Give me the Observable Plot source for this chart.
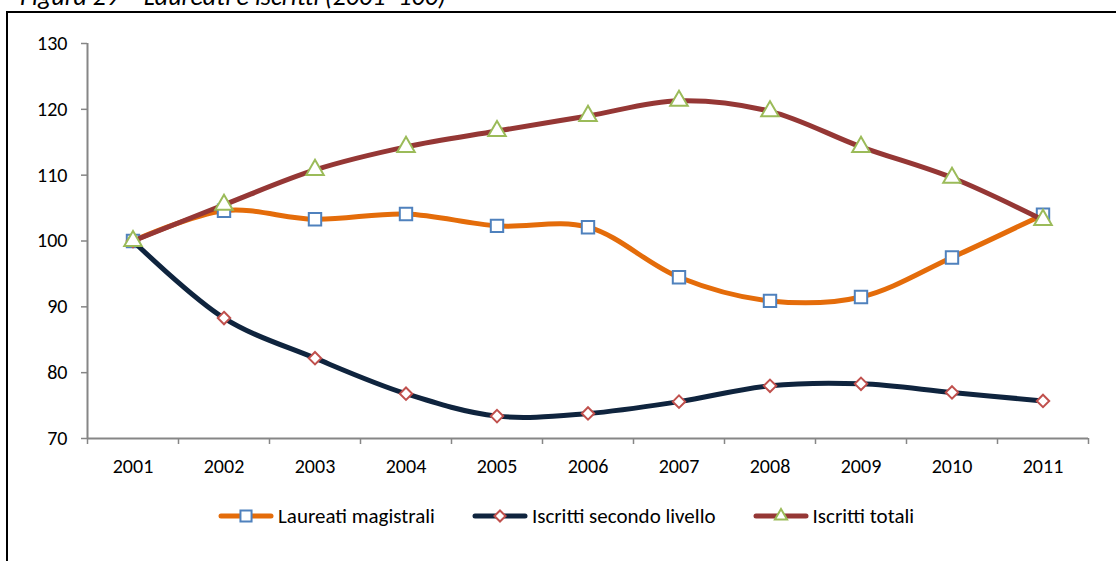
<!DOCTYPE html>
<html>
<head>
<meta charset="utf-8">
<script src="https://cdn.jsdelivr.net/npm/d3@7"></script>
<script src="https://cdn.jsdelivr.net/npm/@observablehq/plot@0.6"></script>
<style>
  html, body { margin: 0; padding: 0; background: #fff; overflow: hidden; }
  body { width: 1116px; height: 561px; position: relative; font-family: Carlito, Calibri, Lato, sans-serif; }
  #frame { position: absolute; left: 6px; top: 11px; width: 1200px; height: 700px; border-top: 2px solid #000; border-left: 2px solid #000; }
  #title { position: absolute; left: 20px; top: -17px; font-size: 26px; line-height: 26px; font-style: italic; color: #000; white-space: nowrap; }
  #chart { position: absolute; left: 0; top: 0; }
  #legend { position: absolute; left: 218px; top: 502px; height: 28px; display: flex; align-items: center; font-size: 21px; color: #000; }
  .item { display: flex; align-items: center; margin-right: 37px; }
  .item svg { margin-right: 4px; }
</style>
</head>
<body>
<div id="frame"></div>
<div id="title">Figura 29 – Laureati e iscritti (2001=100)</div>
<div id="chart"></div>
<div id="legend"></div>
<script>
const years = [2001, 2002, 2003, 2004, 2005, 2006, 2007, 2008, 2009, 2010, 2011];
const laureatiMagistrali = [100, 104.6, 103.3, 104.1, 102.3, 102.1, 94.5, 90.9, 91.5, 97.5, 104.0];
const iscrittiSecondoLivello = [100, 88.3, 82.2, 76.8, 73.4, 73.8, 75.6, 78.0, 78.3, 77.0, 75.7];
const iscrittiTotali = [100, 105.5, 110.8, 114.3, 116.7, 119.0, 121.3, 119.7, 114.3, 109.6, 103.2];
const yTicks = [70, 80, 90, 100, 110, 120, 130];
const seriesNames = ["Laureati magistrali", "Iscritti secondo livello", "Iscritti totali"];

const seriesDefs = [
  {name: seriesNames[0], values: laureatiMagistrali, line: "#E46C0A", marker: "square", mstroke: "#4F81BD", r: 7},
  {name: seriesNames[1], values: iscrittiSecondoLivello, line: "#0F243E", marker: "diamond2", mstroke: "#C0504D", r: 5.6},
  {name: seriesNames[2], values: iscrittiTotali, line: "#953735", marker: "triangle", mstroke: "#9BBB59", r: 6.5}
];

const xDomain = [years[0] - 0.5, years[years.length - 1] + 0.5];
const boundaries = d3.range(xDomain[0], xDomain[1] + 0.01, 1);

const marks = [];
for (const s of seriesDefs) {
  const data = years.map((yr, i) => ({year: yr, value: s.values[i]}));
  marks.push(Plot.line(data, {x: "year", y: "value", stroke: s.line, strokeWidth: 5, curve: "catmull-rom", strokeLinecap: "round", strokeLinejoin: "round"}));
  marks.push(Plot.dot(data, {x: "year", y: "value", symbol: s.marker, r: s.r, stroke: s.mstroke, strokeWidth: 2, fill: "white"}));
}

const chart = Plot.plot({
  width: 1116,
  height: 480,
  marginLeft: 87,
  marginRight: 28,
  marginTop: 43,
  marginBottom: 42,
  style: {fontFamily: "Carlito, Calibri, Lato, sans-serif", fontSize: "20px", color: "#000", background: "transparent"},
  x: {type: "linear", domain: xDomain},
  y: {domain: [yTicks[0], yTicks[yTicks.length - 1]]},
  marks: [
    Plot.axisY({ticks: yTicks, tickSize: 6, tickPadding: 14, stroke: "#868686", strokeWidth: 1.5, fontSize: 20, fill: "#000", label: null}),
    Plot.axisX({ticks: boundaries, tickSize: 6, tickFormat: () => "", stroke: "#868686", strokeWidth: 1.5, label: null}),
    Plot.axisX({ticks: years, tickSize: 0, tickPadding: 20, tickFormat: d => String(d), fontSize: 20, fill: "#000", label: null}),
    Plot.ruleX([xDomain[0]], {stroke: "#868686", strokeWidth: 2}),
    Plot.ruleY([yTicks[0]], {stroke: "#868686", strokeWidth: 2}),
    ...marks
  ]
});
document.getElementById("chart").appendChild(chart);

// Legend
const legend = document.getElementById("legend");
const ns = "http://www.w3.org/2000/svg";
for (const s of seriesDefs) {
  const item = document.createElement("div");
  item.className = "item";
  const sw = document.createElementNS(ns, "svg");
  sw.setAttribute("width", 56);
  sw.setAttribute("height", 18);
  const ln = document.createElementNS(ns, "line");
  ln.setAttribute("x1", 3); ln.setAttribute("x2", 53);
  ln.setAttribute("y1", 9); ln.setAttribute("y2", 9);
  ln.setAttribute("stroke", s.line); ln.setAttribute("stroke-width", 5);
  ln.setAttribute("stroke-linecap", "round");
  sw.appendChild(ln);
  const symMap = {square: d3.symbolSquare, diamond2: d3.symbolDiamond2, triangle: d3.symbolTriangle2};
  const p = document.createElementNS(ns, "path");
  p.setAttribute("d", d3.symbol(symMap[s.marker], Math.PI * s.r * s.r * 0.8)());
  p.setAttribute("transform", "translate(28,9)");
  p.setAttribute("fill", "white");
  p.setAttribute("stroke", s.mstroke);
  p.setAttribute("stroke-width", 2);
  sw.appendChild(p);
  item.appendChild(sw);
  const lab = document.createElement("span");
  lab.textContent = s.name;
  item.appendChild(lab);
  legend.appendChild(item);
}
</script>
</body>
</html>
